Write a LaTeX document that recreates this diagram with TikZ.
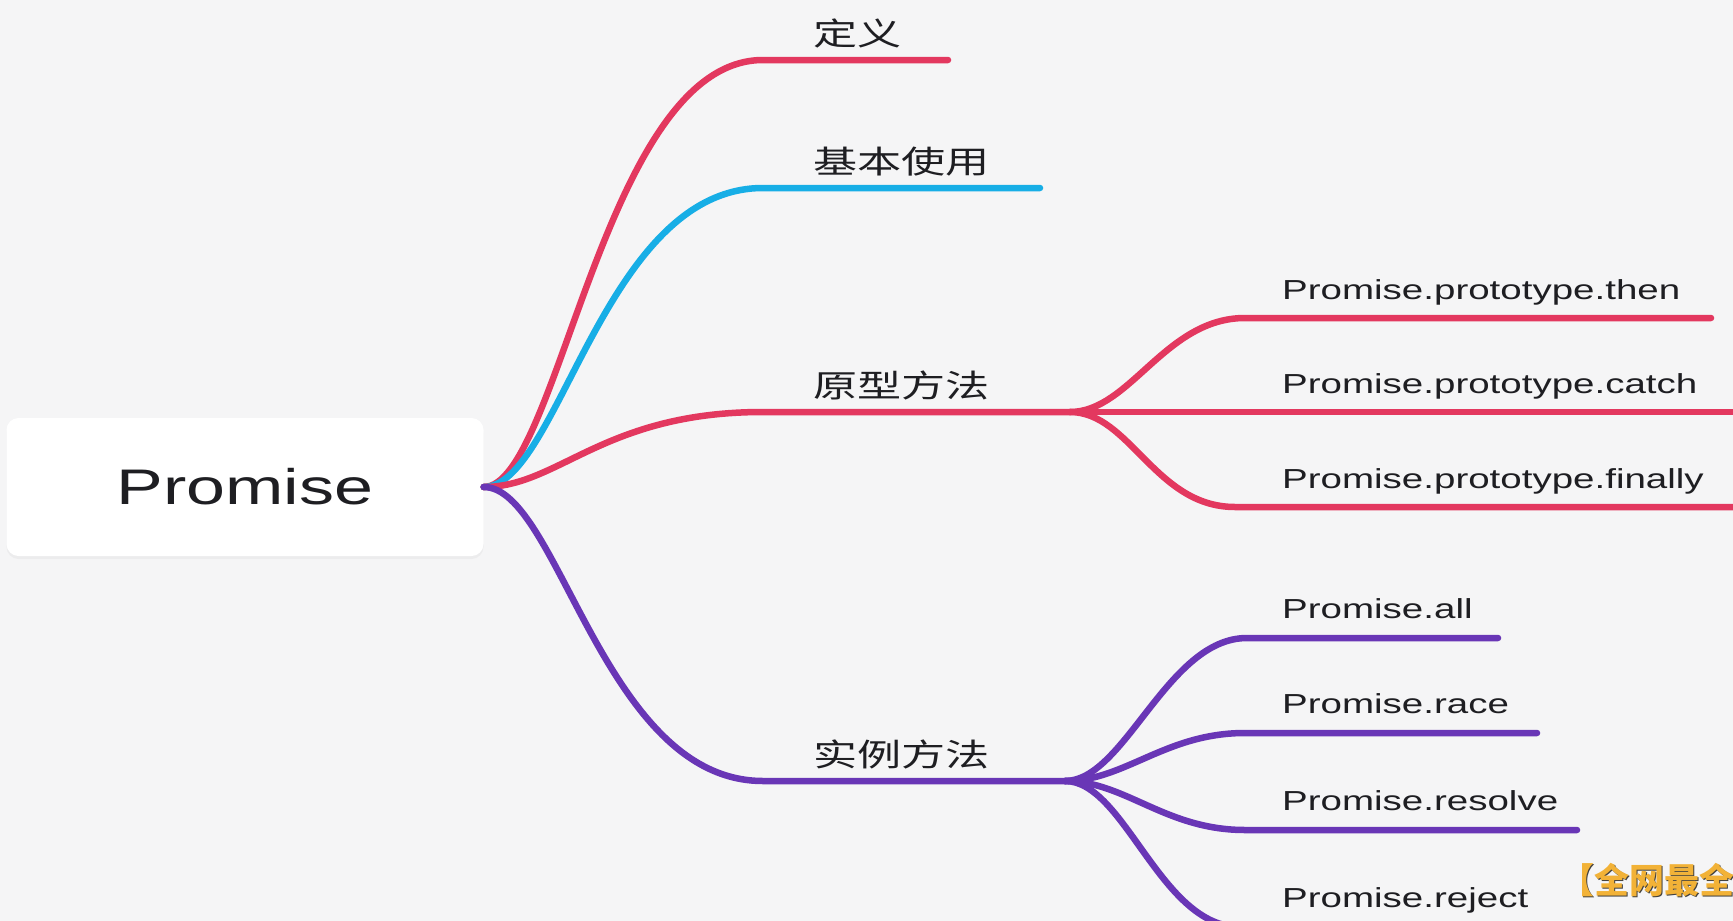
\documentclass[tikz,border=0pt]{standalone}
\usepackage{fontspec}
\setmainfont{Liberation Sans}[FakeStretch=1.4]
\newfontfamily\cjk{Noto Sans CJK SC}[FakeStretch=1.4]
\newfontfamily\wmark{Noto Sans CJK SC}
\usetikzlibrary{calc, shadows}

\definecolor{bgpaper}{HTML}{F5F5F6}
\definecolor{mmred}{HTML}{E3385F}
\definecolor{mmcyan}{HTML}{17AEE6}
\definecolor{mmpurple}{HTML}{6936B6}
\definecolor{inkdark}{HTML}{1E1E22}
\definecolor{wmorange}{HTML}{F2B237}

\tikzset{
  rootbox/.style={fill=white, rounded corners=12pt, minimum width=477pt, minimum height=138pt,
    inner sep=0pt, text=inkdark, font=\fontsize{50}{60}\selectfont,
    drop shadow={shadow xshift=0pt, shadow yshift=-3pt, opacity=0.07}},
  branch/.style={line width=6.5pt, line cap=round, line join=round},
  toplabel/.style={anchor=base west, inner sep=0pt, text=inkdark, font=\cjk\fontsize{31.5}{36}\selectfont},
  sublabel/.style={anchor=base west, inner sep=0pt, text=inkdark, font=\fontsize{27.5}{33}\selectfont},
  wmlabel/.style={anchor=base west, inner sep=0pt, font=\wmark\bfseries\fontsize{35}{40}\selectfont}
}

\begin{document}
\begin{tikzpicture}[x=1pt, y=-1pt]
\fill[bgpaper] (0,0) rectangle (1733,921);
\useasboundingbox (0,0) rectangle (1733,921);

\node[rootbox] (root) at (245,487) {Promise};

% main branches
\coordinate (dingyi-a) at (763,60);
\coordinate (dingyi-b) at (948,60);
\coordinate (jiben-a) at (763,188);
\coordinate (jiben-b) at (1040,188);
\coordinate (yuanxing-a) at (763,412);
\coordinate (yuanxing-fork) at (1070,412);
\coordinate (shili-a) at (763,781);
\coordinate (shili-fork) at (1065,781);

\draw[branch, mmred] (root.east) .. controls ($(root.east)+(75,0)$) and ($(dingyi-a)+(-160,0)$) .. (dingyi-a) -- (dingyi-b);
\draw[branch, mmcyan] (root.east) .. controls ($(root.east)+(75,0)$) and ($(jiben-a)+(-160,0)$) .. (jiben-a) -- (jiben-b);
\draw[branch, mmred] (root.east) .. controls ($(root.east)+(75,0)$) and ($(yuanxing-a)+(-160,0)$) .. (yuanxing-a) -- (yuanxing-fork);
\draw[branch, mmpurple] (root.east) .. controls ($(root.east)+(75,0)$) and ($(shili-a)+(-160,0)$) .. (shili-a) -- (shili-fork);

\node[toplabel] (dingyi) at (813,45) {定义};
\node[toplabel] (jiben) at (813,173) {基本使用};
\node[toplabel] (yuanxing) at (813,397) {原型方法};
\node[toplabel] (shili) at (813,766) {实例方法};

% prototype methods
\coordinate (then-a) at (1245,318);
\coordinate (then-b) at (1711,318);
\coordinate (catch-b) at (1745,412);
\coordinate (finally-a) at (1235,507);
\coordinate (finally-b) at (1745,507);

\draw[branch, mmred] (yuanxing-fork) .. controls ($(yuanxing-fork)+(60,0)$) and ($(then-a)+(-80,0)$) .. (then-a) -- (then-b);
\draw[branch, mmred] (yuanxing-fork) -- (catch-b);
\draw[branch, mmred] (yuanxing-fork) .. controls ($(yuanxing-fork)+(60,0)$) and ($(finally-a)+(-80,0)$) .. (finally-a) -- (finally-b);

\node[sublabel] (then) at (1282,299) {Promise.prototype.then};
\node[sublabel] (catch) at (1282,393) {Promise.prototype.catch};
\node[sublabel] (finally) at (1282,488) {Promise.prototype.finally};

% instance methods
\coordinate (all-a) at (1247,638);
\coordinate (all-b) at (1498,638);
\coordinate (race-a) at (1245,733);
\coordinate (race-b) at (1537,733);
\coordinate (resolve-a) at (1245,830);
\coordinate (resolve-b) at (1577,830);
\coordinate (reject-a) at (1240,927);
\coordinate (reject-b) at (1560,927);

\draw[branch, mmpurple] (shili-fork) .. controls ($(shili-fork)+(60,0)$) and ($(all-a)+(-80,0)$) .. (all-a) -- (all-b);
\draw[branch, mmpurple] (shili-fork) .. controls ($(shili-fork)+(60,0)$) and ($(race-a)+(-80,0)$) .. (race-a) -- (race-b);
\draw[branch, mmpurple] (shili-fork) .. controls ($(shili-fork)+(60,0)$) and ($(resolve-a)+(-80,0)$) .. (resolve-a) -- (resolve-b);
\draw[branch, mmpurple] (shili-fork) .. controls ($(shili-fork)+(60,0)$) and ($(reject-a)+(-80,0)$) .. (reject-a) -- (reject-b);

\node[sublabel] (all) at (1282,618) {Promise.all};
\node[sublabel] (race) at (1282,713) {Promise.race};
\node[sublabel] (resolve) at (1282,810) {Promise.resolve};
\node[sublabel] (reject) at (1282,907) {Promise.reject};

% watermark
\node[wmlabel, text=black!75] (wm-shadow) at (1560.5,894.5) {【全网最全};
\node[wmlabel, text=wmorange] (wm) at (1559,893) {【全网最全};
\end{tikzpicture}
\end{document}
